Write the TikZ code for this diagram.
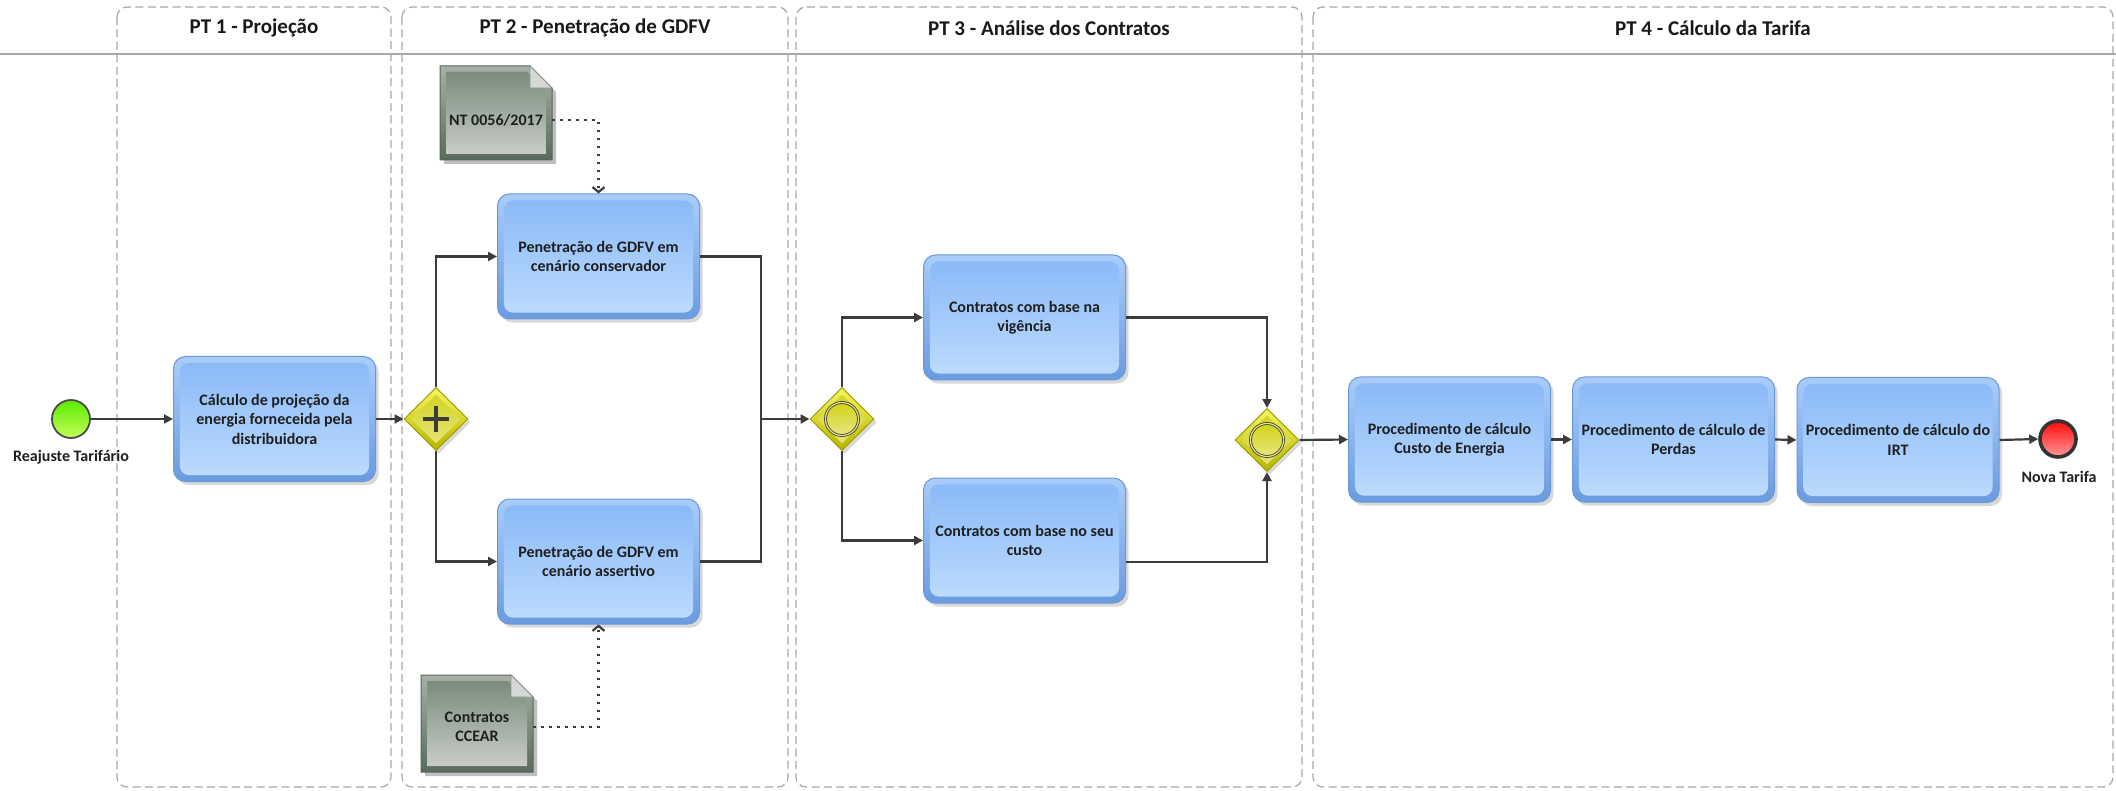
\documentclass[tikz,border=0pt]{standalone}
\usepackage{fontspec}
\setmainfont{Carlito}
\usetikzlibrary{shapes.geometric,arrows.meta,shadows,calc}

\definecolor{laneC}{HTML}{A8A8A8}
\definecolor{flowC}{HTML}{3C3C3C}
\definecolor{taskEdge}{HTML}{6A98D8}
\definecolor{taskOutTop}{HTML}{A9CDF9}
\definecolor{taskOutBot}{HTML}{6A9BE0}
\definecolor{taskInTop}{HTML}{88B8F8}
\definecolor{taskInBot}{HTML}{BEDCFD}
\definecolor{gwEdge}{HTML}{A0A000}
\definecolor{gwOutTop}{HTML}{F6F660}
\definecolor{gwOutBot}{HTML}{B4B400}
\definecolor{gwInTop}{HTML}{D2D218}
\definecolor{gwInBot}{HTML}{E6E680}
\definecolor{docEdge}{HTML}{56665A}
\definecolor{docOutTop}{HTML}{A8B0A8}
\definecolor{docOutBot}{HTML}{5A6A5C}
\definecolor{docInTop}{HTML}{7A8C7C}
\definecolor{docInBot}{HTML}{C8CCC8}
\definecolor{foldC}{HTML}{D6D8D6}
\definecolor{startTop}{HTML}{5CEB00}
\definecolor{startBot}{HTML}{C4FF5A}
\definecolor{endTop}{HTML}{FF0A0A}
\definecolor{endBot}{HTML}{FF9A9A}
\definecolor{ringC}{HTML}{3A3A3A}

\tikzset{
  txt/.style={font=\bfseries\fontsize{8}{9.75}\selectfont, text=black!88},
  task/.style={txt, rectangle, rounded corners=6pt, minimum width=101pt, minimum height=62.5pt,
    inner sep=0pt, draw=taskEdge, line width=0.5pt, top color=taskOutTop, bottom color=taskOutBot,
    drop shadow={shadow xshift=1.6pt, shadow yshift=-1.8pt, opacity=0.3}, align=center,
    path picture={\shade[top color=taskInTop, bottom color=taskInBot, rounded corners=4.5pt]
      ([shift={(3.2pt,-3.2pt)}]path picture bounding box.north west) rectangle
      ([shift={(-3.2pt,3.2pt)}]path picture bounding box.south east);}},
  gateway/.style={diamond, minimum width=32pt, minimum height=31.5pt, inner sep=0pt,
    draw=gwEdge, line width=0.5pt, top color=gwOutTop, bottom color=gwOutBot,
    drop shadow={shadow xshift=1.4pt, shadow yshift=-1.6pt, opacity=0.3},
    path picture={\shade[top color=gwInTop, bottom color=gwInBot]
      ([yshift=-3.5pt]path picture bounding box.north) -- ([xshift=-3.5pt]path picture bounding box.east) --
      ([yshift=3.5pt]path picture bounding box.south) -- ([xshift=3.5pt]path picture bounding box.west) -- cycle;}},
  ring/.style={circle, minimum size=16.5pt, inner sep=0pt, draw=ringC, line width=0.4pt,
    double=gwInBot, double distance=0.6pt, top color=gwInTop, bottom color=gwInBot},
  startev/.style={circle, minimum size=19pt, inner sep=0pt, draw=black!70, line width=0.9pt,
    top color=startTop, bottom color=startBot},
  endev/.style={circle, minimum size=18pt, inner sep=0pt, draw=black!80, line width=1.8pt,
    top color=endTop, bottom color=endBot},
  flow/.style={draw=flowC, line width=1.1pt, -{Triangle[length=4.5pt,width=4.5pt]}},
  plain/.style={draw=flowC, line width=1.1pt},
  assoc/.style={draw=flowC, line width=1.1pt, dash pattern=on 1.3pt off 2.7pt,
    -{Straight Barb[length=2.5pt,width=6pt]}},
  lane/.style={draw=laneC, line width=0.6pt, dash pattern=on 4pt off 2.2pt, rounded corners=5pt},
  ttl/.style={font=\bfseries\fontsize{10.5}{12}\selectfont, text=black!90},
  doctext/.style={txt, inner sep=0pt, minimum width=56pt, align=center},
  docshadow/.style={fill=black, opacity=0.25},
  docout/.style={top color=docOutTop, bottom color=docOutBot, draw=docEdge, line width=0.5pt},
  docin/.style={top color=docInTop, bottom color=docInBot},
  fold/.style={fill=foldC, draw=docEdge!70, line width=0.4pt}
}

\begin{document}
\begin{tikzpicture}[x=0.5pt, y=-0.5pt]
\useasboundingbox (0,0) rectangle (2116,791);
\fill[white] (0,0) rectangle (2116,791);

% header line and lanes
\draw[draw=laneC, line width=1.4pt] (0,54) -- (2116,54);
\draw[lane] (117,7) rectangle (391,787);
\draw[lane] (402,7) rectangle (788,787);
\draw[lane] (796,7) rectangle (1302,787);
\draw[lane] (1313,7) rectangle (2113,787);

\node[ttl] (t1) at (254,28) {PT 1 - Projeção};
\node[ttl] (t2) at (595,28) {PT 2 - Penetração de GDFV};
\node[ttl] (t3) at (1049,28) {PT 3 - Análise dos Contratos};
\node[ttl] (t4) at (1713,28) {PT 4 - Cálculo da Tarifa};

% documents
\fill[docshadow] (444,70) -- (534,70) -- (556,92) -- (556,164) -- (444,164) -- cycle;
\shade[docout] (440,66) -- (530,66) -- (552,88) -- (552,160) -- (440,160) -- cycle;
\shade[docin] (446,72) -- (527,72) -- (546,91) -- (546,154) -- (446,154) -- cycle;
\filldraw[fold] (530,66) -- (552,88) -- (530,88) -- cycle;
\node[doctext] (nt) at (496,120) {NT 0056/2017};

\fill[docshadow] (425,679) -- (515,679) -- (537,701) -- (537,776) -- (425,776) -- cycle;
\shade[docout] (421,675) -- (511,675) -- (533,697) -- (533,772) -- (421,772) -- cycle;
\shade[docin] (427,681) -- (508,681) -- (527,700) -- (527,766) -- (427,766) -- cycle;
\filldraw[fold] (511,675) -- (533,697) -- (511,697) -- cycle;
\node[doctext] (ccear) at (477,727) {Contratos\\CCEAR};

% events
\node[startev] (start) at (71,419) {};
\node[txt] (startlbl) at (71,457) {Reajuste Tarifário};
\node[endev] (end) at (2058,439) {};
\node[txt] (endlbl) at (2059,477) {Nova Tarifa};

% tasks
\node[task] (calc) at (274.5,419) {Cálculo de projeção da\\energia forneceida pela\\distribuidora};
\node[task] (cons) at (598.5,256.5) {Penetração de GDFV em\\cenário conservador};
\node[task] (asse) at (598.5,561.5) {Penetração de GDFV em\\cenário assertivo};
\node[task] (vig) at (1024.5,317.5) {Contratos com base na\\vigência};
\node[task] (cus) at (1024.5,540.5) {Contratos com base no seu\\custo};
\node[task] (ce) at (1449.5,439.5) {Procedimento de cálculo\\Custo de Energia};
\node[task] (per) at (1673.5,439.5) {Procedimento de cálculo de\\Perdas};
\node[task] (irt) at (1898,440) {Procedimento de cálculo do\\IRT};

% gateways
\node[gateway] (g1) at (436,419) {};
\draw[flowC, line width=1.6pt] ($(g1)+(-13,0)$) -- ($(g1)+(13,0)$) ($(g1)+(0,-13)$) -- ($(g1)+(0,13)$);
\node[gateway] (g2) at (842,419) {};
\node[ring] (g2c) at (g2) {};
\node[gateway] (g3) at (1267,440) {};
\node[ring] (g3c) at (g3) {};

\coordinate (mjoin) at (761,419);

% flows
\draw[flow] (start.east) -- (calc.west);
\draw[flow] (calc.east) -- (g1.west);
\draw[flow] (g1.north) |- (cons.west);
\draw[flow] (g1.south) |- (asse.west);
\draw[plain] (asse.east) -| (mjoin);
\draw[flow] (cons.east) -| (mjoin) -- (g2.west);
\draw[flow] (g2.north) |- (vig.west);
\draw[flow] (g2.south) |- (cus.west);
\draw[flow] (vig.east) -| (g3.north);
\draw[flow] ([yshift=-10.75pt]cus.east) -| (g3.south);
\draw[flow] (g3.east) -- (ce.west);
\draw[flow] (ce.east) -- (per.west);
\draw[flow] (per.east) -- (irt.west);
\draw[flow] (irt.east) -- (end.west);

% associations
\draw[assoc] (nt.east) -| (cons.north);
\draw[assoc] (ccear.east) -| (asse.south);
\end{tikzpicture}
\end{document}
